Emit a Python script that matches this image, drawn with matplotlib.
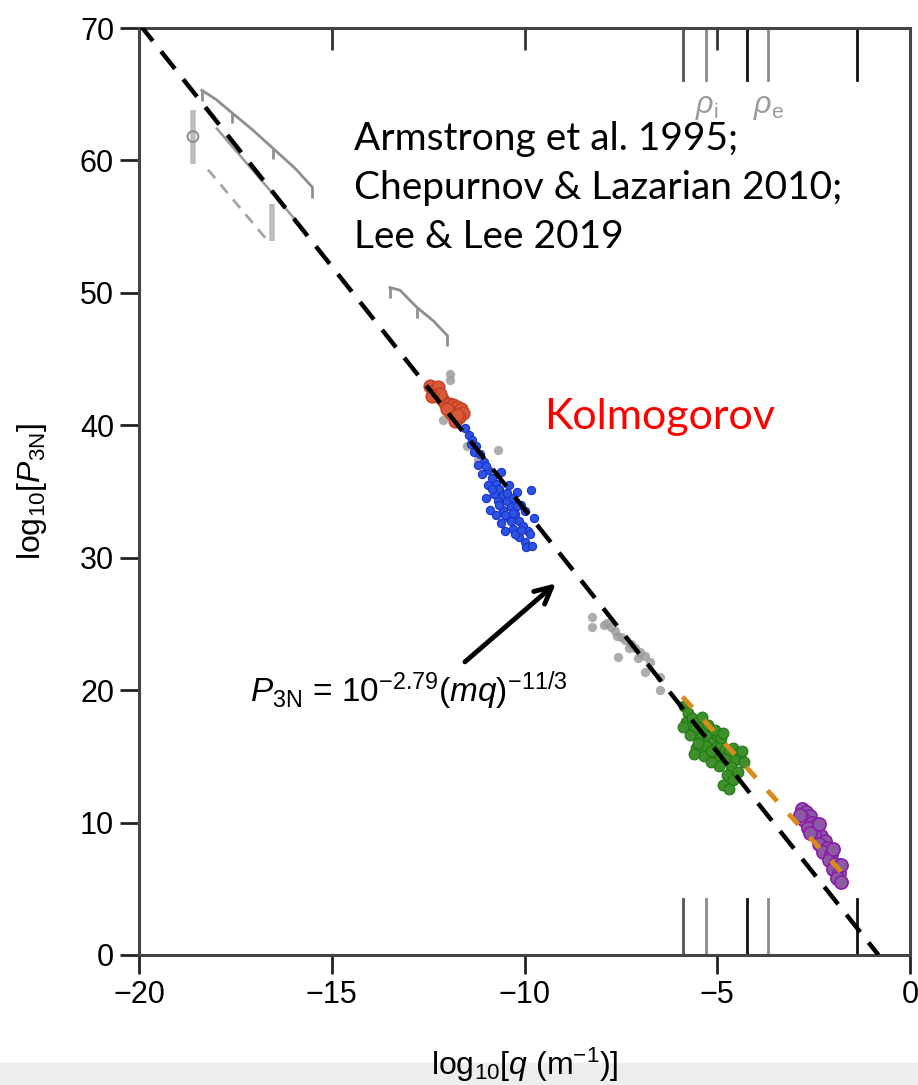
import matplotlib
matplotlib.use("Agg")
import matplotlib.pyplot as plt
from matplotlib.patches import Rectangle

plt.rcParams["font.family"] = ["Liberation Sans", "DejaVu Sans"]
plt.rcParams["mathtext.fontset"] = "custom"
plt.rcParams["mathtext.rm"] = "Liberation Sans"
plt.rcParams["mathtext.it"] = "Liberation Sans:italic"

# Kolmogorov reference: log10 P = -11/3 log10 q + offset
kol_q = [-20.0, -0.82]
kol_slope = -11.0 / 3.0
kol_offset = -3.0

# Armstrong et al. 1995 (gray, upper left)
arc1_q = [-18.37, -18.0, -17.59, -17.05, -16.52, -15.95, -15.51]
arc1_p = [65.3, 64.6, 63.6, 62.3, 60.9, 59.4, 58.0]
arc1_tick_q = [-18.37, -17.59, -16.52, -15.51]
arc1_tick_p = [65.3, 63.6, 60.9, 58.0]
arc2_q = [-13.49, -13.23, -12.79, -12.37, -12.01]
arc2_p = [50.4, 50.2, 48.9, 47.9, 46.8]
arc2_tick_q = [-13.49, -12.79, -12.01]
arc2_tick_p = [50.4, 48.9, 46.8]
dash1_q = [-18.21, -16.68]
dash1_p = [59.3, 54.0]
line2_q = [-17.98, -15.88]
line2_p = [62.4, 55.3]
bar_q = [-18.6, -16.55]
bar_lo = [59.7, 53.9]
bar_hi = [63.8, 56.7]
circ_q = [-18.6]
circ_p = [61.8]

gray_q = [-11.93, -11.93, -12.11, -11.49, -10.69, -11.2, -8.25, -8.25, -7.86, -7.75,
          -7.65, -7.5, -7.4, -7.25, -7.13, -7.0, -6.87, -6.74, -7.57, -6.87,
          -6.49, -6.49, -7.95, -7.3, -7.6, -7.05]
gray_p = [43.9, 43.4, 40.4, 38.4, 38.1, 37.4, 25.5, 24.8, 25.1, 24.8,
          24.5, 24.0, 23.8, 23.5, 23.2, 22.9, 22.6, 22.1, 22.5, 21.4,
          21.0, 20.0, 24.9, 23.2, 24.1, 22.4]

red_q = [-12.45, -12.35, -12.25, -12.3, -12.15, -12.05, -11.95, -11.85, -11.75, -11.65,
         -11.6, -11.7, -11.8, -11.9, -12.0, -12.2, -11.75, -12.4]
red_p = [43.0, 42.6, 42.9, 42.3, 42.0, 41.7, 41.6, 41.5, 41.4, 41.2,
         40.9, 40.6, 40.3, 40.9, 41.2, 42.4, 40.8, 42.2]

blue_q = [-11.55, -11.45, -11.35, -11.25, -11.3, -11.15, -11.05, -11.2, -10.95, -11.1,
          -10.85, -10.75, -10.95, -10.65, -10.8, -10.55, -10.45, -10.7, -10.35, -10.55,
          -10.25, -10.4, -10.15, -10.05, -10.3, -10.0, -9.9, -10.15, -10.0, -9.85,
          -10.9, -10.6, -9.75, -10.2, -10.4, -11.0, -10.25, -9.95, -10.6, -10.3,
          -9.83, -9.8, -10.1, -10.5, -10.75, -10.85, -10.65, -10.5, -10.35, -10.2,
          -10.1, -11.4, -11.0, -10.45, -10.3]
blue_p = [39.8, 39.3, 38.9, 38.4, 38.0, 37.8, 37.2, 37.0, 36.6, 36.3,
          36.0, 35.6, 35.5, 35.2, 34.8, 34.7, 34.3, 34.3, 33.8, 33.6,
          33.3, 33.0, 32.8, 32.4, 32.2, 33.5, 32.0, 31.6, 31.2, 31.8,
          33.6, 32.6, 33.0, 35.0, 35.5, 34.5, 31.8, 30.8, 36.5, 34.5,
          35.1, 30.9, 34.0, 32.0, 33.2, 35.2, 34.0, 33.2, 32.8, 33.9,
          32.1, 38.6, 36.9, 34.9, 33.4]

green_q = [-5.85, -5.75, -5.8, -5.65, -5.5, -5.6, -5.4, -5.3, -5.45, -5.7,
           -5.2, -5.1, -5.3, -5.55, -5.0, -4.9, -4.8, -4.7, -4.6, -4.5,
           -4.4, -4.35, -4.55, -4.8, -5.0, -5.2, -4.65, -4.75, -4.6, -4.85,
           -4.7, -4.45, -5.35, -5.6, -4.95, -5.15, -5.9, -5.0, -4.9, -4.3,
           -5.5, -5.25, -5.05, -4.85, -5.4, -5.15]
green_p = [18.8, 18.3, 17.6, 17.9, 17.6, 17.0, 17.2, 16.9, 16.4, 16.6,
           16.5, 16.1, 15.8, 15.6, 15.7, 15.9, 15.5, 15.3, 15.6, 15.2,
           15.0, 15.4, 14.7, 14.8, 15.0, 15.2, 14.2, 13.6, 13.2, 12.8,
           12.5, 13.8, 15.0, 15.2, 14.3, 14.6, 17.2, 16.6, 16.4, 14.6,
           16.0, 17.4, 17.0, 16.8, 18.0, 15.4]

purple_q = [-2.8, -2.7, -2.6, -2.75, -2.55, -2.45, -2.65, -2.4, -2.3, -2.5,
            -2.2, -2.35, -2.15, -2.25, -2.05, -2.1, -1.95, -2.0, -1.85, -1.9,
            -1.8, -2.6, -2.85, -2.35, -2.0, -1.8]
purple_p = [11.0, 10.8, 10.5, 10.2, 10.0, 9.8, 9.6, 9.4, 9.0, 9.1,
            8.6, 8.4, 8.1, 7.8, 7.6, 7.2, 6.9, 6.5, 6.2, 5.8,
            5.5, 9.2, 10.6, 9.9, 8.0, 6.8]

orange_q = [-5.9, -1.7]
orange_p = [19.5, 6.0]

# scale markers, top and bottom
scale_q = [-5.89, -5.29, -4.23, -3.68, -1.37]
scale_colors = ["#555555", "#8a8a8a", "#111111", "#8a8a8a", "#111111"]
scale_len = 4.2

fig = plt.figure(figsize=(9.18, 10.85), dpi=100)
fig.patches.append(Rectangle((0, 0), 1, 22 / 1085, transform=fig.transFigure,
                             color="#ededed", zorder=-1))
ax = fig.add_axes([139 / 918, 1 - 955 / 1085, (910 - 139) / 918, (955 - 28) / 1085])

gray = "#8f8f8f"
ax.plot(arc1_q, arc1_p, color=gray, lw=2)
ax.vlines(arc1_tick_q, [p - 0.8 for p in arc1_tick_p], arc1_tick_p, color=gray, lw=2)
ax.plot(arc2_q, arc2_p, color=gray, lw=2)
ax.vlines(arc2_tick_q, [p - 0.8 for p in arc2_tick_p], arc2_tick_p, color=gray, lw=2)
ax.plot(dash1_q, dash1_p, color="#a5a5a5", lw=2, dashes=(4, 3))
ax.plot(line2_q, line2_p, color="#9a9a9a", lw=1.8)
ax.vlines(bar_q, bar_lo, bar_hi, color="#bdbdbd", lw=4)
ax.scatter(circ_q, circ_p, s=60, facecolor="none", edgecolor=gray, lw=1.5, zorder=3)

ax.scatter(gray_q, gray_p, s=45, color="#999999", alpha=0.8, lw=0, zorder=3)
ax.scatter(red_q, red_p, s=85, color="#d9583a", edgecolor="#c04020", lw=1, zorder=4)
ax.scatter(blue_q, blue_p, s=35, color="#2b55e0", edgecolor="#1a2fd0", lw=0.8, zorder=4)
ax.scatter(green_q, green_p, s=60, color="#3f8f2a", edgecolor="#1f7a12", lw=0.8, zorder=4)
ax.scatter(purple_q, purple_p, s=90, color="#8c5aa3", edgecolor="#8a1aa8", lw=1.2, zorder=4)
ax.plot(orange_q, orange_p, color="#d98c1c", lw=3.5, dashes=(3, 3.5), zorder=5)

kol_p = [kol_slope * q + kol_offset for q in kol_q]
ax.plot(kol_q, kol_p, color="black", lw=3.2, dashes=(5, 3), zorder=6)

for q, c in zip(scale_q, scale_colors):
    ax.plot([q, q], [0, scale_len], color=c, lw=2)
    ax.plot([q, q], [70, 70 - scale_len + 0.3], color=c, lw=2)
ax.text(-5.27, 64.0, r"$\rho_{\rm i}$", color="#9a9a9a", fontsize=22, ha="center", va="center")
ax.text(-3.66, 64.0, r"$\rho_{\rm e}$", color="#9a9a9a", fontsize=22, ha="center", va="center")

ax.annotate("", xy=(-9.13, 28.2), xytext=(-11.6, 22.0),
            arrowprops=dict(arrowstyle="->,head_length=1.2,head_width=0.6", lw=3.5, color="black"))
ax.text(-17.12, 20.0, r"$P_{\rm 3N}$ = 10$^{-2.79}$($mq$)$^{-11/3}$", fontsize=24,
        ha="left", va="center")

ax.text(-14.42, 57.9, "Armstrong et al. 1995;\nChepurnov & Lazarian 2010;\nLee & Lee 2019",
        family=["Lato", "DejaVu Sans"], fontsize=28, ha="left", va="center", linespacing=1.45)
ax.text(-9.5, 40.6, "Kolmogorov", family=["Lato", "DejaVu Sans"], fontsize=31,
        color="#ff0000", ha="left", va="center")

ax.set_xlim(-20, 0)
ax.set_ylim(0, 70)
ax.set_xticks([-20, -15, -10, -5, 0])
ax.set_yticks([0, 10, 20, 30, 40, 50, 60, 70])
ax.tick_params(direction="out", length=14, width=2, labelsize=22, color="#222222", pad=4)
for s in ax.spines.values():
    s.set_linewidth(2.2)
    s.set_color("#444444")

top = ax.secondary_xaxis("top")
top.set_xticks([-15, -10, -5])
top.tick_params(direction="in", length=16, width=2, labeltop=False, color="#333333")

ax.set_xlabel("log$_{10}$[$q$ (m$^{-1}$)]", fontsize=23, labelpad=26)
ax.set_ylabel("log$_{10}$[$P_{\\rm 3N}$]", fontsize=23, labelpad=22)

fig.savefig("out.png", dpi=100)
